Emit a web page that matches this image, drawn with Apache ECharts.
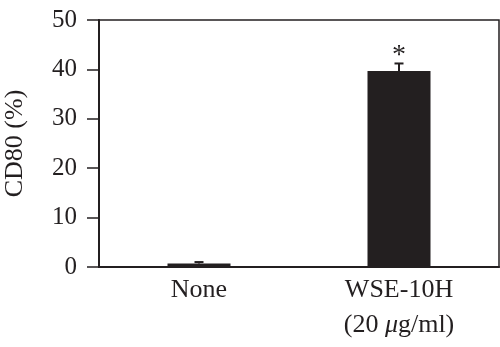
<!DOCTYPE html>
<html><head><meta charset="utf-8">
<script src="https://cdn.jsdelivr.net/npm/echarts@6/dist/echarts.min.js"></script>
<style>html,body{margin:0;padding:0;background:#fff}#c{width:500px;height:347px}</style>
</head><body><div id="c"></div>
<script>
const categories = ['None', 'WSE-10H\n(20 μg/ml)'];
const values = [0.7, 39.7];
const errors = [0.3, 1.5];
const marks = ['', '*'];
const yTicks = [0, 10, 20, 30, 40, 50];

const FONT = 'Liberation Serif';
const INK = '#231f20';
const chart = echarts.init(document.getElementById('c'), null, {renderer: 'canvas'});
chart.setOption({
  animation: false,
  grid: {left: 99, right: 1, top: 20, bottom: 80, show: true, borderColor: INK, borderWidth: 1.5,
         containLabel: false, outerBoundsMode: 'none'},
  xAxis: {
    type: 'category', data: categories,
    axisLine: {lineStyle: {color: INK, width: 2}},
    axisTick: {show: false},
    axisLabel: {
      interval: 0,
      margin: 6, color: INK, fontFamily: FONT, fontSize: 26, lineHeight: 35,
      formatter: function (v) {
        if (v.indexOf('\n') < 0) return '{n|' + v + '}';
        const parts = v.split('\n');
        const l2 = parts[1].replace('μ', '}{i|μ}{n|');
        return '{n|' + parts[0] + '}\n{n|' + l2 + '}';
      },
      rich: {
        n: {fontFamily: FONT, fontSize: 26, color: INK, lineHeight: 35},
        i: {fontFamily: FONT, fontSize: 26, color: INK, fontStyle: 'italic', lineHeight: 35}
      }
    }
  },
  yAxis: {
    type: 'value', min: 0, max: 50, interval: 10,
    name: 'CD80 (%)', nameLocation: 'middle', nameGap: 71, nameRotate: 90,
    nameTextStyle: {fontFamily: FONT, fontSize: 26, color: INK},
    axisLine: {show: true, lineStyle: {color: INK, width: 2}},
    axisTick: {show: true, length: 12, lineStyle: {color: INK, width: 1.5}},
    axisLabel: {margin: 22, color: INK, fontFamily: FONT, fontSize: 25,
      formatter: function (v) { return yTicks.indexOf(v) >= 0 ? String(v) : ''; }},
    splitLine: {show: false}
  },
  series: [
    {
      type: 'bar', data: values, barWidth: '31.5%',
      itemStyle: {color: INK}
    },
    {
      type: 'custom',
      data: values.map((v, i) => [i, v, errors[i]]),
      renderItem: function (params, api) {
        const x = api.value(0), v = api.value(1), e = api.value(2);
        const top = api.coord([x, v + e]);
        const base = api.coord([x, v]);
        const cw = 4.5;
        const children = [
          {type: 'line', shape: {x1: top[0], y1: base[1], x2: top[0], y2: top[1]}, style: {stroke: INK, lineWidth: 2}},
          {type: 'line', shape: {x1: top[0] - cw, y1: top[1], x2: top[0] + cw, y2: top[1]}, style: {stroke: INK, lineWidth: 2}}
        ];
        const m = marks[params.dataIndex];
        if (m) {
          children.push({type: 'text', style: {text: m, x: top[0], y: top[1] - 22, align: 'center', verticalAlign: 'top', fontFamily: FONT, fontSize: 28, fill: INK}});
        }
        return {type: 'group', children: children};
      },
      z: 5
    }
  ]
});
</script></body></html>
